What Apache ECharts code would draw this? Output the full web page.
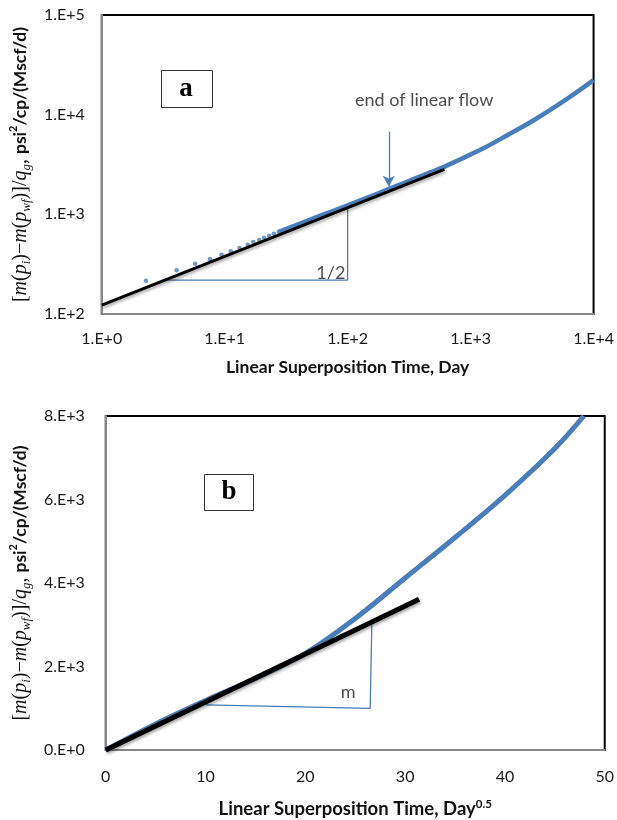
<!DOCTYPE html>
<html>
<head>
<meta charset="utf-8">
<title>Linear flow diagnostic plots</title>
<script src="https://cdn.jsdelivr.net/npm/echarts/dist/echarts.min.js"></script>
<style>
  html, body { margin: 0; padding: 0; background: #fff; }
  #chart { width: 617px; height: 820px; }
</style>
</head>
<body>
<div id="chart"></div>
<script>
// ---- Panel a: log-log plot of normalized pseudo-pressure vs superposition time ----
const dotTimeA  = [2.29, 4.06, 5.75, 7.59, 9.41, 11.2, 13.2, 15.4, 17.1, 19.1, 20.9, 22.9, 25.1, 27.5];
const dotValueA = [216, 274, 320, 356, 393, 426, 459, 495, 527, 552, 582, 610, 638, 669];

const bandTimeA  = [27.5, 40, 60, 100, 150, 215, 300, 400, 594, 800, 1318, 2000, 3311, 6124, 10000];
const bandValueA = [669, 800, 970, 1230, 1496, 1787, 2111, 2434, 2960, 3500, 4700, 6250, 8900, 14500, 22240];

// half-slope reference line (start and end)
const fitTimeA  = [1, 612];
const fitValueA = [123, 2828];

// slope triangle
const triTimeA  = [3.31, 100, 100];
const triValueA = [219, 219, 1140];

// arrow marking end of linear flow
const arrowTimeA  = [216, 216];
const arrowValueA = [6740, 1892];

const ticksXA = [1, 10, 100, 1000, 10000];
const ticksYA = [100, 1000, 10000, 100000];
const tickLabelsXA = ['1.E+0', '1.E+1', '1.E+2', '1.E+3', '1.E+4'];
const tickLabelsYA = ['1.E+2', '1.E+3', '1.E+4', '1.E+5'];

// ---- Panel b: Cartesian plot vs square root of superposition time ----
const sqrtTimeB = [0, 5, 10, 15, 20, 25, 30, 35, 40, 45, 47.9];
const valueB    = [0, 625, 1185, 1715, 2315, 3150, 4120, 5090, 6100, 7220, 8000];

const fitTimeB  = [0, 31.4];
const fitValueB = [0, 3610];

const triTimeB  = [10.05, 26.5, 26.66];
const triValueB = [1081, 995, 3006];

const ticksYB = [0, 2000, 4000, 6000, 8000];
const tickLabelsYB = ['0.E+0', '2.E+3', '4.E+3', '6.E+3', '8.E+3'];

// ---- helpers ----
const zip = (xs, ys) => xs.map((x, i) => [x, ys[i]]);
const BLUE = '#4a7ebb';
const SANS = 'Lato';
const SERIF = 'Liberation Serif';

const labelFrom = (ticks, labels) => v => {
  const i = ticks.findIndex(t => Math.abs(t - v) / Math.max(1, Math.abs(t)) < 1e-6);
  return i >= 0 ? labels[i] : '';
};

const yTitle = '{p|[}{mi|m}{p|(}{mi|p}{sub|i}{p|)−}{mi|m}{p|(}{mi|p}{sub|wf}{p|)]/}{mi|q}{sub|g}{p|, }{b|psi}{sup|2}{b|/cp/(Mscf/d)}';
const yTitleRich = {
  p:   { fontFamily: SERIF, fontSize: 20, lineHeight: 25, color: '#111' },
  mi:  { fontFamily: SERIF, fontStyle: 'italic', fontSize: 20, lineHeight: 25, color: '#111' },
  sub: { fontFamily: SERIF, fontStyle: 'italic', fontSize: 13, verticalAlign: 'bottom', color: '#111' },
  b:   { fontFamily: SANS, fontWeight: 'bold', fontSize: 17.5, lineHeight: 25, color: '#111' },
  sup: { fontFamily: SANS, fontWeight: 'bold', fontSize: 11, verticalAlign: 'top', color: '#111' }
};

const axisLineGray = { show: true, lineStyle: { color: '#868686', width: 2 } };
const tickText = { fontFamily: SANS, fontSize: 16, color: '#1a1a1a' };
const blackShadow = { shadowColor: 'rgba(0,0,0,0.35)', shadowBlur: 3, shadowOffsetX: 1, shadowOffsetY: 2 };

const option = {
  backgroundColor: '#fff',
  animation: false,
  grid: [
    { left: 93, top: 15, width: 501, height: 299, show: true, borderColor: '#000', borderWidth: 2, backgroundColor: 'transparent' },
    { left: 104, top: 416, width: 502, height: 335, show: true, borderColor: '#000', borderWidth: 2, backgroundColor: 'transparent' }
  ],
  xAxis: [
    {
      gridIndex: 0, type: 'log', logBase: 10, min: 1, max: 10000,
      axisLine: axisLineGray, axisTick: { show: false }, splitLine: { show: false },
      axisLabel: Object.assign({ margin: 17, formatter: labelFrom(ticksXA, tickLabelsXA) }, tickText),
      name: 'Linear Superposition Time, Day', nameLocation: 'middle', nameGap: 44,
      nameTextStyle: { fontFamily: SANS, fontWeight: 'bold', fontSize: 17.5, color: '#111' }
    },
    {
      gridIndex: 1, type: 'value', min: 0, max: 50, interval: 10,
      axisLine: axisLineGray, axisTick: { show: false }, splitLine: { show: false },
      axisLabel: Object.assign({ margin: 19 }, tickText),
      name: '{t|Linear Superposition Time, Day}{s|0.5}', nameLocation: 'middle', nameGap: 48,
      nameTextStyle: {
        rich: {
          t: { fontFamily: SANS, fontWeight: 'bold', fontSize: 18.5, lineHeight: 23, color: '#111' },
          s: { fontFamily: SANS, fontWeight: 'bold', fontSize: 11.5, verticalAlign: 'top', color: '#111' }
        }
      }
    }
  ],
  yAxis: [
    {
      gridIndex: 0, type: 'log', logBase: 10, min: 100, max: 100000,
      axisLine: axisLineGray, axisTick: { show: false }, splitLine: { show: false },
      axisLabel: Object.assign({ margin: 17, formatter: labelFrom(ticksYA, tickLabelsYA) }, tickText),
      name: yTitle, nameLocation: 'middle', nameRotate: 90, nameGap: 60,
      nameTextStyle: { rich: yTitleRich }
    },
    {
      gridIndex: 1, type: 'value', min: 0, max: 8000, interval: 2000,
      axisLine: axisLineGray, axisTick: { show: false }, splitLine: { show: false },
      axisLabel: Object.assign({ margin: 21, formatter: labelFrom(ticksYB, tickLabelsYB) }, tickText),
      name: yTitle, nameLocation: 'middle', nameRotate: 90, nameGap: 71,
      nameTextStyle: { rich: yTitleRich }
    }
  ],
  series: [
    // panel a
    {
      type: 'line', xAxisIndex: 0, yAxisIndex: 0, data: zip(bandTimeA, bandValueA),
      smooth: 0.35, showSymbol: false, lineStyle: { color: BLUE, width: 4.5 }, z: 3, silent: true
    },
    {
      type: 'scatter', xAxisIndex: 0, yAxisIndex: 0, data: zip(dotTimeA, dotValueA),
      symbolSize: 4.5, itemStyle: { color: BLUE }, z: 3, silent: true
    },
    {
      type: 'line', xAxisIndex: 0, yAxisIndex: 0, data: zip(fitTimeA, fitValueA),
      showSymbol: false, lineStyle: Object.assign({ color: '#000', width: 3 }, blackShadow), z: 4, silent: true
    },
    {
      type: 'line', xAxisIndex: 0, yAxisIndex: 0, data: zip(triTimeA, triValueA),
      showSymbol: false, lineStyle: { color: BLUE, width: 1.3 }, z: 2, silent: true,
      markLine: {
        silent: true, symbol: ['none', 'arrow'], symbolSize: [9, 11],
        lineStyle: { color: BLUE, width: 1.3, type: 'solid' }, label: { show: false },
        data: [[{ coord: [arrowTimeA[0], arrowValueA[0]] }, { coord: [arrowTimeA[1], arrowValueA[1]] }]]
      }
    },
    {
      type: 'scatter', xAxisIndex: 0, yAxisIndex: 0, symbolSize: 1, silent: true, z: 6,
      itemStyle: { color: 'transparent' },
      label: { show: true, position: 'inside', color: '#222', fontFamily: SANS, fontSize: 18, formatter: p => p.data[2] },
      data: [[73, 258, '1/2'], [419, 14000, 'end of linear flow']]
    },
    // panel b
    {
      type: 'line', xAxisIndex: 1, yAxisIndex: 1, data: zip(sqrtTimeB, valueB),
      smooth: 0.35, showSymbol: false, lineStyle: { color: BLUE, width: 5 }, z: 3, silent: true
    },
    {
      type: 'line', xAxisIndex: 1, yAxisIndex: 1, data: zip(fitTimeB, fitValueB),
      showSymbol: false, clip: false, lineStyle: Object.assign({ color: '#000', width: 5 }, blackShadow), z: 4, silent: true
    },
    {
      type: 'line', xAxisIndex: 1, yAxisIndex: 1, data: zip(triTimeB, triValueB),
      showSymbol: false, lineStyle: { color: BLUE, width: 1.3 }, z: 2, silent: true
    },
    {
      type: 'scatter', xAxisIndex: 1, yAxisIndex: 1, symbolSize: 1, silent: true, z: 6,
      itemStyle: { color: 'transparent' },
      label: { show: true, position: 'inside', color: '#222', fontFamily: SANS, fontSize: 18, formatter: p => p.data[2] },
      data: [[24.3, 1377, 'm']]
    }
  ],
  graphic: [
    { type: 'rect', shape: { x: 161.5, y: 70.5, width: 51, height: 37 }, style: { fill: '#fff', stroke: '#333', lineWidth: 1 }, z: 10 },
    { type: 'text', x: 186, y: 89, style: { text: 'a', font: 'bold 27px "Liberation Serif"', fill: '#000', textAlign: 'center', textVerticalAlign: 'middle' }, z: 11 },
    { type: 'rect', shape: { x: 204.5, y: 474.5, width: 49, height: 36 }, style: { fill: '#fff', stroke: '#333', lineWidth: 1 }, z: 10 },
    { type: 'text', x: 229, y: 492, style: { text: 'b', font: 'bold 27px "Liberation Serif"', fill: '#000', textAlign: 'center', textVerticalAlign: 'middle' }, z: 11 }
  ]
};

const chart = echarts.init(document.getElementById('chart'), null, { renderer: 'canvas' });
chart.setOption(option);
</script>
</body>
</html>
